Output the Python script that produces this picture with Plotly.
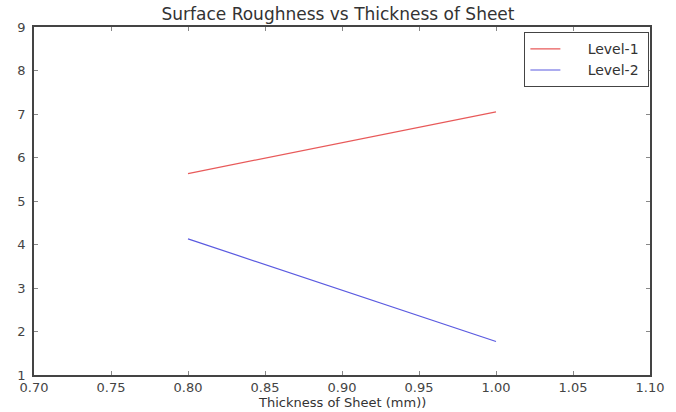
import plotly.graph_objects as go

thickness = [0.80, 1.00]
level1 = [5.63, 7.05]
level2 = [4.13, 1.77]
x_ticks = [0.70, 0.75, 0.80, 0.85, 0.90, 0.95, 1.00, 1.05, 1.10]
y_ticks = [1, 2, 3, 4, 5, 6, 7, 8, 9]
x_title = "Thickness of Sheet (mm))"

fig = go.Figure()
fig.add_trace(go.Scatter(x=thickness, y=level1, mode="lines", name="     Level-1 ",
                         line=dict(color="#e85a5a", width=1.2)))
fig.add_trace(go.Scatter(x=thickness, y=level2, mode="lines", name="     Level-2 ",
                         line=dict(color="#5a5ae0", width=1.2)))

axis_common = dict(showgrid=False, zeroline=False, showline=True, linecolor="#444",
                   linewidth=1.5, mirror="ticks", ticks="inside", ticklen=4,
                   tickcolor="#888", tickfont=dict(family="DejaVu Sans", size=13, color="#444"))
fig.update_layout(
    width=676, height=412,
    margin=dict(l=34, r=16, t=27, b=37),
    paper_bgcolor="white", plot_bgcolor="white",
    title=dict(text="Surface Roughness vs Thickness of Sheet", x=0.5, xanchor="center",
               y=0.965, yanchor="middle",
               font=dict(family="DejaVu Sans", size=17, color="#333")),
    xaxis=dict(range=[0.70, 1.10], tickvals=x_ticks,
               ticktext=[f"{v:.2f}" for v in x_ticks],
               ticklabelstandoff=0, **axis_common),
    yaxis=dict(range=[1, 9], tickvals=y_ticks, ticktext=[str(v) for v in y_ticks],
               ticklabelstandoff=4, **axis_common),
    legend=dict(x=0.999, y=0.985, xanchor="right", yanchor="top",
                bordercolor="#444", borderwidth=1, bgcolor="white",
                font=dict(family="DejaVu Sans", size=14, color="#333"),
                tracegroupgap=0, itemwidth=30),
    showlegend=True,
    annotations=[dict(text=x_title, xref="paper", yref="paper", x=0.5, y=-0.078,
                      xanchor="center", yanchor="middle", showarrow=False,
                      font=dict(family="DejaVu Sans", size=13, color="#333"))],
)
fig.write_html("out.html", config={"displayModeBar": False},
               post_script="document.body.style.margin='0';")
